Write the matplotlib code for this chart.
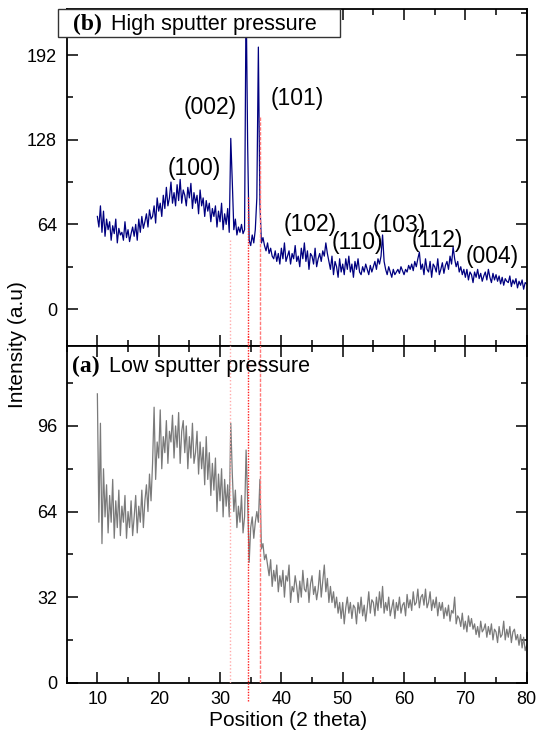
import numpy as np
import matplotlib
matplotlib.use("Agg")
import matplotlib.pyplot as plt
from matplotlib.patches import Rectangle
from matplotlib.ticker import MultipleLocator

plt.rcParams['font.family'] = ['Liberation Sans', 'DejaVu Sans']

# scan positions (2 theta), 0.25 degree step from 10 to 80
two_theta = np.round(np.arange(10.0, 80.001, 0.25), 2)

# (b) high sputter pressure, intensity per 0.25 deg
high_pressure = [
    70, 62, 78, 58,  74, 55, 68, 60,  66, 52, 63, 57,  68, 50, 61, 56,
    58, 52, 66, 54,  60, 51, 57, 62,  55, 64, 52, 68,  58, 70, 61, 66,
    72, 62, 75, 68,  70, 78, 65, 84,  74, 80, 70, 86,  76, 92, 78, 84,
    96, 80, 88, 78,  94, 82, 98, 80,  90, 86, 78, 92,  84, 95, 76, 88,
    80, 86, 72, 90,  78, 84, 70, 82,  74, 80, 66, 76,  70, 78, 62, 74,
    66, 80, 60, 72,  64, 76, 58, 129, 96, 60, 68, 56,  62, 58, 64, 57,
    60, 240, 125, 52, 48, 56, 50, 60, 84, 198, 80, 50, 54, 48, 44, 50,
    42, 46, 40, 38,  44, 36, 42, 34,  46, 38, 50, 36,  40, 44, 34, 42,
    38, 48, 36, 40,  32, 46, 38, 50,  36, 44, 30, 42,  40, 34, 46, 32,
    38, 42, 36, 44,  40, 50, 42, 36,  30, 40, 26, 36,  32, 24, 38, 28,
    34, 26, 38, 30,  40, 28, 34, 24,  36, 30, 38, 28,  26, 32, 28, 34,
    30, 26, 33, 28,  32, 36, 30, 38,  34, 40, 56, 36,  30, 26, 32, 28,
    24, 30, 26, 28,  30, 27, 32, 29,  26, 30, 28, 33,  30, 34, 29, 36,
    32, 38, 43, 30,  34, 26, 38, 30,  28, 36, 24, 34,  32, 28, 38, 26,
    30, 35, 27, 33,  36, 30, 40, 34,  47, 38, 32, 36,  28, 32, 26, 30,
    24, 30, 22, 28,  26, 20, 28, 24,  30, 23, 27, 21,  25, 28, 22, 30,
    24, 20, 27, 22,  26, 21, 25, 19,  24, 18, 23, 21,  20, 25, 17, 22,
    19, 23, 16, 21,  18, 22, 15, 20,  19,
]

# (a) low sputter pressure, intensity per 0.25 deg
low_pressure = [
    108, 60, 97, 52,  80, 62, 74, 56,  70, 60, 76, 54,  68, 58, 72, 55,
    66, 60, 70, 54,  64, 58, 68, 55,  62, 70, 56, 66,  60, 72, 58, 68,
    74, 64, 78, 68,  82, 103, 76, 90, 84, 102, 80, 92, 86, 98, 82, 94,
    90, 100, 84, 96, 88, 101, 82, 94, 98, 86, 96, 80, 92, 84, 97, 82,
    86, 94, 78, 90,  80, 88, 74, 92,  76, 86, 70, 82,  72, 84, 64, 78,
    68, 80, 62, 76,  66, 74, 62, 97,  78, 64, 72, 58,  66, 60, 70, 56,
    62, 87, 68, 45,  58, 62, 54, 60,  64, 60, 76, 50,  52, 46, 48, 44,
    40, 46, 36, 42,  38, 44, 34, 40,  36, 42, 32, 40,  38, 44, 30, 36,
    34, 40, 36, 30,  38, 32, 42, 35,  34, 39, 30, 37,  40, 33, 36, 31,
    35, 42, 32, 38,  44, 34, 39, 30,  36, 30, 34, 28,  32, 26, 30, 24,
    30, 22, 28, 32,  26, 30, 24, 29,  28, 22, 30, 26,  32, 25, 29, 23,
    28, 34, 26, 31,  30, 25, 32, 27,  34, 28, 36, 26,  30, 27, 32, 25,
    28, 31, 24, 30,  27, 32, 26, 29,  30, 25, 33, 28,  31, 27, 34, 29,
    30, 35, 28, 32,  33, 29, 35, 28,  30, 34, 27, 31,  28, 32, 25, 30,
    27, 30, 24, 28,  25, 29, 23, 27,  26, 32, 22, 25,  24, 21, 26, 20,
    23, 19, 25, 21,  24, 20, 22, 18,  21, 17, 23, 19,  20, 22, 17, 21,
    18, 22, 16, 20,  19, 15, 21, 17,  18, 23, 16, 20,  17, 21, 15, 19,
    20, 16, 18, 14,  18, 13, 17, 12,  14,
]

peak_labels = ["(100)", "(002)", "(101)", "(102)", "(110)", "(103)", "(112)", "(004)"]
peak_label_x = [25.8, 28.4, 42.6, 44.7, 52.4, 59.2, 65.4, 74.3]
peak_label_y = [106.6, 152, 159.5, 64, 50, 63.5, 52, 40]

ref_lines = [31.7, 34.55, 36.45]
ref_line_top = [52, 85, 145]
ref_colors = ['#ffaaaa', '#ff2020', '#ff7a7a']
ref_styles = [(0, (1, 1.5)), (0, (1, 1)), (0, (2.5, 1))]

W, H = 543, 734
fig = plt.figure(figsize=(W / 100, H / 100), dpi=100)

L, R = 66.7 / W, 526.7 / W
mid = 1 - 345.7 / H
top = 1 - 9 / H
bot = 1 - 682.7 / H
ax_b = fig.add_axes([L, mid, R - L, top - mid])
ax_a = fig.add_axes([L, bot, R - L, mid - bot])

ax_b.plot(two_theta, high_pressure, color='#000080', lw=0.9, zorder=2)
ax_a.plot(two_theta, low_pressure, color='#7a7a7a', lw=0.9, zorder=2)

for x, t, c, s in zip(ref_lines, ref_line_top, ref_colors, ref_styles):
    ax_b.plot([x, x], [t, -30], color=c, ls=s, lw=1.0, zorder=3)
    ax_a.plot([x, x], [-7 if x == 34.55 else 0, 130], color=c, ls=s, lw=1.0,
              zorder=3, clip_on=(x != 34.55))

ax_b.set_xlim(5, 80)
ax_a.set_xlim(5, 80)
ax_b.set_ylim(-27.7, 226.8)
ax_a.set_ylim(0, 126)

ax_b.yaxis.set_major_locator(MultipleLocator(64))
ax_b.yaxis.set_minor_locator(MultipleLocator(32))
ax_a.yaxis.set_major_locator(MultipleLocator(32))
ax_a.yaxis.set_minor_locator(MultipleLocator(16))
for ax in (ax_a, ax_b):
    ax.xaxis.set_major_locator(MultipleLocator(10))
    ax.xaxis.set_minor_locator(MultipleLocator(5))
    ax.tick_params(which='both', direction='in', top=True, right=True, width=1.1)
    ax.tick_params(which='major', length=8)
    ax.tick_params(which='minor', length=4)
    ax.tick_params(axis='y', which='major', labelsize=13, pad=7)
    ax.tick_params(axis='x', which='major', labelsize=13, pad=6)
    for sp in ax.spines.values():
        sp.set_linewidth(1.3)
ax_b.tick_params(axis='x', labelbottom=False)

for lab, x, y in zip(peak_labels, peak_label_x, peak_label_y):
    ax_b.text(x, y, lab, fontsize=16.5, ha='center', va='center', zorder=4)

# title box for (b)
fig.patches.append(Rectangle((58 / W, 1 - 37 / H), (340 - 58) / W, 28 / H,
                             transform=fig.transFigure, facecolor='white',
                             edgecolor='#333333', lw=1.0, zorder=5))
fig.text(73 / W, 1 - 30 / H, "(b)", fontsize=17, fontweight='bold',
         family='Liberation Serif', va='baseline', ha='left', zorder=6)
fig.text(111 / W, 1 - 30 / H, "High sputter pressure", fontsize=15.5,
         va='baseline', ha='left', zorder=6)
fig.text(72 / W, 1 - 372 / H, "(a)", fontsize=17, fontweight='bold',
         family='Liberation Serif', va='baseline', ha='left', zorder=6)
fig.text(109 / W, 1 - 372 / H, "Low sputter pressure", fontsize=15.5,
         va='baseline', ha='left', zorder=6)

fig.text(18 / W, 1 - 345 / H, "Intensity (a.u)", fontsize=15, rotation=90,
         ha='center', va='center')
fig.text(288 / W, 1 - 720 / H, "Position (2 theta)", fontsize=15,
         ha='center', va='center')

fig.savefig("out.png", dpi=100)
